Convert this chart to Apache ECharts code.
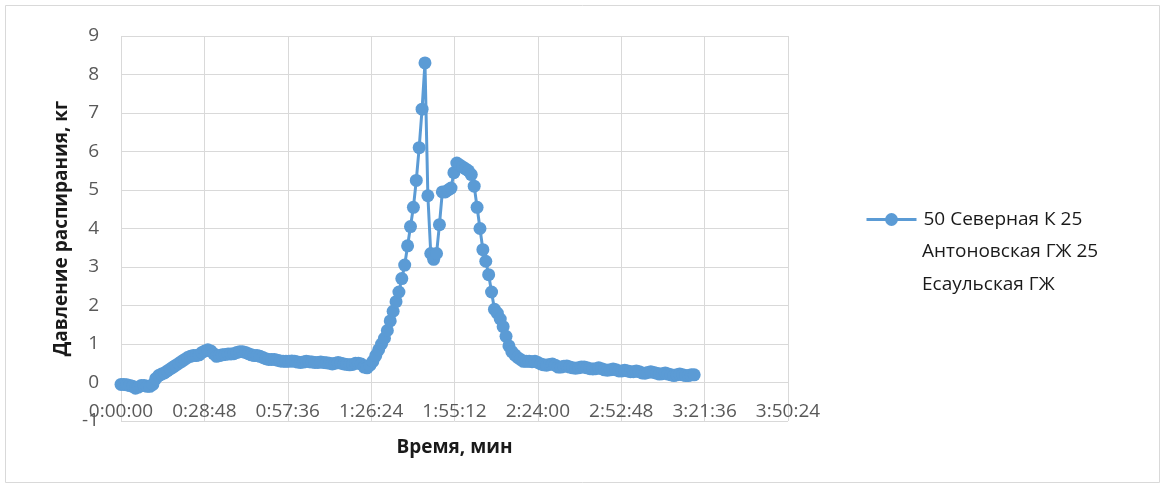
<!DOCTYPE html>
<html>
<head>
<meta charset="utf-8">
<script src="https://cdn.jsdelivr.net/npm/echarts@6/dist/echarts.min.js"></script>
<style>
  html, body { margin: 0; padding: 0; background: #ffffff; }
  #chart { width: 1166px; height: 489px; }
</style>
</head>
<body>
<div id="chart"></div>
<script>
// Pressure readings, sampled once per minute (value in kg)
const seriesName = '50 Северная К 25 Антоновская ГЖ 25 Есаульская ГЖ';
const legendLines = ['50 Северная К 25', 'Антоновская ГЖ 25', 'Есаульская ГЖ'];
const sampleStepSeconds = 60;
const pressure = [
  -0.05, -0.05, -0.06, -0.08, -0.10, -0.15, -0.12, -0.08, -0.08, -0.10,
  -0.10, -0.05, 0.10, 0.18, 0.22, 0.25, 0.30, 0.35, 0.40, 0.45,
  0.50, 0.55, 0.60, 0.65, 0.68, 0.70, 0.70, 0.72, 0.78, 0.82,
  0.85, 0.82, 0.75, 0.68, 0.70, 0.72, 0.73, 0.74, 0.74, 0.75,
  0.78, 0.80, 0.80, 0.78, 0.75, 0.72, 0.70, 0.70, 0.68, 0.65,
  0.62, 0.60, 0.60, 0.60, 0.58, 0.56, 0.55, 0.55, 0.55, 0.56,
  0.55, 0.53, 0.52, 0.53, 0.55, 0.54, 0.53, 0.52, 0.52, 0.53,
  0.52, 0.51, 0.50, 0.48, 0.50, 0.52, 0.50, 0.48, 0.47, 0.46,
  0.47, 0.50, 0.50, 0.48, 0.40, 0.38, 0.45, 0.55, 0.70, 0.85,
  1.00, 1.15, 1.35, 1.60, 1.85, 2.10, 2.35, 2.70, 3.05, 3.55,
  4.05, 4.55, 5.25, 6.10, 7.10, 8.30, 4.85, 3.35, 3.20, 3.35,
  4.10, 4.95, 4.95, 5.00, 5.05, 5.45, 5.70, 5.65, 5.60, 5.55,
  5.50, 5.40, 5.10, 4.55, 4.00, 3.45, 3.15, 2.80, 2.35, 1.90,
  1.80, 1.65, 1.45, 1.20, 0.95, 0.80, 0.72, 0.65, 0.60, 0.55,
  0.55, 0.55, 0.54, 0.55, 0.52, 0.48, 0.46, 0.45, 0.47, 0.48,
  0.45, 0.40, 0.40, 0.42, 0.43, 0.40, 0.38, 0.37, 0.38, 0.40,
  0.40, 0.38, 0.36, 0.35, 0.36, 0.38, 0.36, 0.33, 0.32, 0.33,
  0.35, 0.33, 0.30, 0.30, 0.32, 0.30, 0.28, 0.28, 0.30, 0.28,
  0.25, 0.24, 0.26, 0.28, 0.26, 0.24, 0.22, 0.23, 0.25, 0.22,
  0.20, 0.18, 0.20, 0.22, 0.20, 0.18, 0.18, 0.20, 0.20
];

// Axis settings (time in seconds, 0:28:48 per division)
const xMin = 0;
const xMax = 13824;
const xStep = 1728;
const yMin = -1;
const yMax = 9;
const yStep = 1;

const points = pressure.map((v, i) => [i * sampleStepSeconds, v]);

function hms(sec) {
  const s = Math.round(sec);
  const h = Math.floor(s / 3600);
  const m = Math.floor((s % 3600) / 60);
  const r = s % 60;
  return h + ':' + String(m).padStart(2, '0') + ':' + String(r).padStart(2, '0');
}

const FONT = '"Open Sans", "Noto Sans", sans-serif';
const GRID = '#d9d9d9';
const BLUE = '#5b9bd5';
const TEXT_DARK = '#1a1a1a';

const chart = echarts.init(document.getElementById('chart'), null, { renderer: 'canvas' });
chart.setOption({
  animation: false,
  backgroundColor: '#ffffff',
  textStyle: { fontFamily: FONT },
  graphic: [
    {
      type: 'rect',
      shape: { x: 5.5, y: 5.5, width: 1154, height: 477 },
      style: { fill: 'none', stroke: GRID, lineWidth: 1 },
      silent: true
    },
    // continuation lines of the legend entry
    {
      type: 'text', left: 922, top: 242, silent: true,
      style: { text: legendLines[1], font: '19px ' + FONT, fill: TEXT_DARK }
    },
    {
      type: 'text', left: 922, top: 275, silent: true,
      style: { text: legendLines[2], font: '19px ' + FONT, fill: TEXT_DARK }
    }
  ],
  grid: {
    left: 121, right: 378, top: 36, bottom: 68,
    containLabel: false, outerBoundsMode: 'none'
  },
  legend: {
    orient: 'vertical',
    left: 860,
    top: 198,
    itemWidth: 50,
    itemHeight: 16,
    formatter: () => legendLines[0],
    itemStyle: { color: BLUE },
    lineStyle: { color: BLUE, width: 3 },
    textStyle: {
      fontFamily: FONT, fontSize: 19, color: TEXT_DARK, lineHeight: 33,
      padding: [0, 0, 0, 2]
    },
    data: [seriesName]
  },
  xAxis: {
    type: 'value',
    min: xMin, max: xMax, interval: xStep,
    name: 'Время, мин',
    nameLocation: 'middle',
    nameGap: 17,
    nameTextStyle: { fontFamily: FONT, fontSize: 19, fontWeight: 'bold', color: TEXT_DARK },
    axisLine: { show: false },
    axisTick: { show: false },
    axisLabel: {
      formatter: v => hms(v),
      fontFamily: FONT, fontSize: 19, color: '#595959', margin: -19,
      showMinLabel: true, showMaxLabel: true
    },
    splitLine: { show: true, lineStyle: { color: GRID, width: 1 } }
  },
  yAxis: {
    type: 'value',
    min: yMin, max: yMax, interval: yStep,
    name: 'Давление распирания, кг',
    nameLocation: 'middle',
    nameGap: 50,
    nameTextStyle: { fontFamily: FONT, fontSize: 19, fontWeight: 'bold', color: TEXT_DARK },
    axisLine: { show: false },
    axisTick: { show: false },
    axisLabel: { fontFamily: FONT, fontSize: 19, color: '#595959', margin: 22 },
    splitLine: { show: true, lineStyle: { color: GRID, width: 1 } }
  },
  series: [{
    name: seriesName,
    type: 'line',
    data: points,
    symbol: 'circle',
    symbolSize: 13,
    showAllSymbol: true,
    lineStyle: { color: BLUE, width: 3 },
    itemStyle: { color: BLUE },
    emphasis: { disabled: true }
  }]
});
</script>
</body>
</html>
